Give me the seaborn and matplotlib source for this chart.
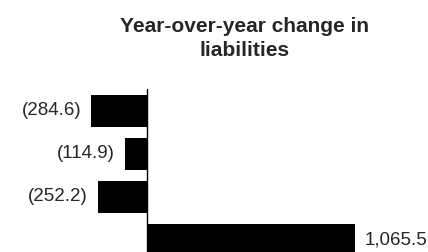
import matplotlib
matplotlib.use("Agg")
import matplotlib.pyplot as plt
import seaborn as sns
import pandas as pd

categories = ["A", "B", "C", "D"]
values = [-284.6, -114.9, -252.2, 1065.5]
labels = ["(284.6)", "(114.9)", "(252.2)", "1,065.5"]
title = "Year-over-year change in\nliabilities"

sns.set_style("white")
plt.rcParams["font.family"] = ["Liberation Sans", "DejaVu Sans"]

df = pd.DataFrame({"cat": categories, "val": values})

fig = plt.figure(figsize=(4.28, 2.52), dpi=100)
ax = fig.add_axes([0, 0, 1, 163 / 252])
sns.barplot(data=df, x="val", y="cat", orient="h", color="black",
            saturation=1, width=0.75, ax=ax)
for p in ax.patches:
    p.set_edgecolor("none")

ax.set_xlim(-147 / 0.1953, (428 - 147) / 0.1953)
ax.set_ylim(3.28, -0.51)
ax.axvline(0, color="black", lw=1)
for s in ax.spines.values():
    s.set_visible(False)
ax.set_xticks([])
ax.set_yticks([])
ax.set_xlabel("")
ax.set_ylabel("")

for i, (v, lab) in enumerate(zip(values, labels)):
    if v < 0:
        ax.annotate(lab, (v, i), xytext=(-7.2, 0), textcoords="offset points",
                    ha="right", va="center", fontsize=13.5)
    else:
        ax.annotate(lab, (v, i), xytext=(7.2, 0), textcoords="offset points",
                    ha="left", va="center", fontsize=13.5)

fig.text(245 / 428, 1 - 38.5 / 252, title, ha="center", va="center",
         fontsize=15, fontweight="bold", linespacing=1.3)

fig.savefig("out.png", dpi=100)
